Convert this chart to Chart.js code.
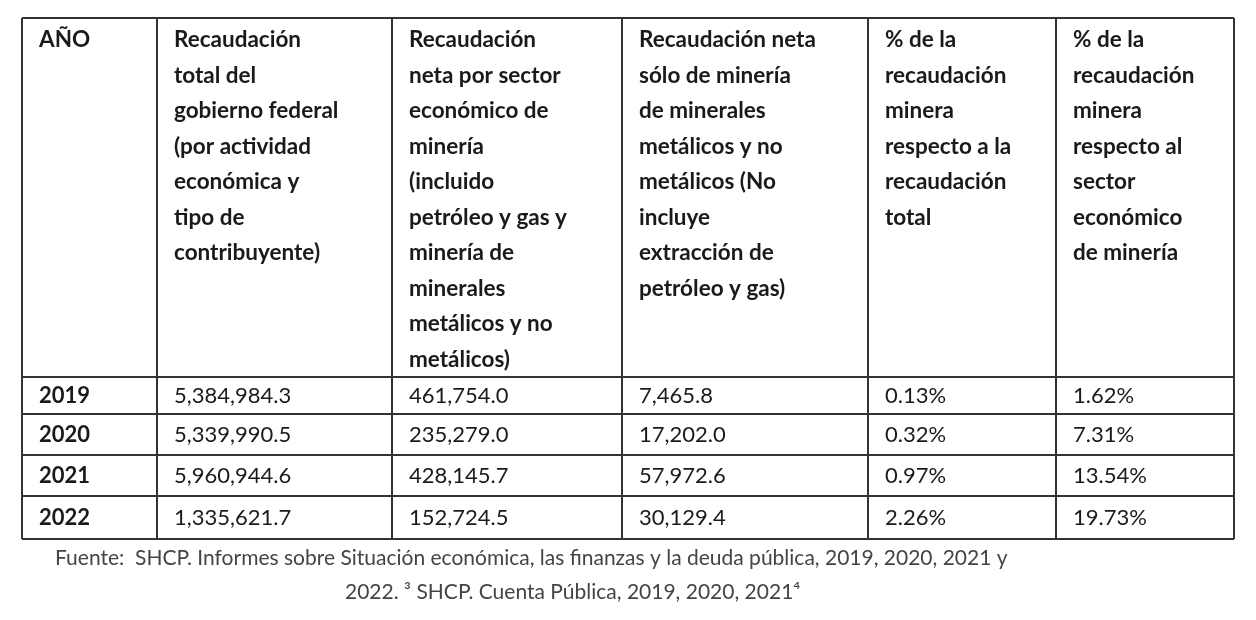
<!DOCTYPE html>
<html><head><meta charset="utf-8">
<script src="https://cdn.jsdelivr.net/npm/chart.js@4.4.0/dist/chart.umd.min.js"></script>
<style>html,body{margin:0;background:#fff}#wrap{width:1256px;height:620px}</style>
</head><body><div id="wrap"><canvas id="tbl"></canvas></div>
<script>
const headers = [
  ["AÑO"],
  ["Recaudación","total del","gobierno federal","(por actividad","económica y","tipo de","contribuyente)"],
  ["Recaudación","neta por sector","económico de","minería","(incluido","petróleo y gas y","minería de","minerales","metálicos y no","metálicos)"],
  ["Recaudación neta","sólo de minería","de minerales","metálicos y no","metálicos (No","incluye","extracción de","petróleo y gas)"],
  ["% de la","recaudación","minera","respecto a la","recaudación","total"],
  ["% de la","recaudación","minera","respecto al","sector","económico","de minería"]
];
const years = ["2019","2020","2021","2022"];
const totalFed = ["5,384,984.3","5,339,990.5","5,960,944.6","1,335,621.7"];
const sectorMin = ["461,754.0","235,279.0","428,145.7","152,724.5"];
const metalMin = ["7,465.8","17,202.0","57,972.6","30,129.4"];
const pctTotal = ["0.13%","0.32%","0.97%","2.26%"];
const pctSector = ["1.62%","7.31%","13.54%","19.73%"];
const footnote = ["Fuente:  SHCP. Informes sobre Situación económica, las finanzas y la deuda pública, 2019, 2020, 2021 y",
                  "2022. ³ SHCP. Cuenta Pública, 2019, 2020, 2021⁴"];

// grid edges in scale units
const colEdges = [22, 157, 392, 622, 868, 1056, 1234];
const rowEdges = [18, 377, 414, 455, 496, 539];

const rows = years.map((y, i) => [y, totalFed[i], sectorMin[i], metalMin[i], pctTotal[i], pctSector[i]]);

const tablePlugin = {
  id: 'tablePlugin',
  afterDraw(chart) {
    const ctx = chart.ctx, xs = chart.scales.x, ys = chart.scales.y;
    const X = v => xs.getPixelForValue(v), Y = v => ys.getPixelForValue(v);
    ctx.save();
    ctx.strokeStyle = '#333'; ctx.lineWidth = 2;
    colEdges.forEach(c => { ctx.beginPath(); ctx.moveTo(X(c), Y(rowEdges[0])); ctx.lineTo(X(c), Y(rowEdges[rowEdges.length-1])); ctx.stroke(); });
    rowEdges.forEach(r => { ctx.beginPath(); ctx.moveTo(X(colEdges[0]), Y(r)); ctx.lineTo(X(colEdges[colEdges.length-1]), Y(r)); ctx.stroke(); });
    ctx.fillStyle = '#1a1a1a'; ctx.textBaseline = 'middle'; ctx.textAlign = 'left';
    ctx.font = 'bold 22.5px Lato';
    headers.forEach((lines, c) => {
      const w = X(colEdges[c+1]) - X(colEdges[c]) - 22;
      lines.forEach((t, k) => ctx.fillText(t, X(colEdges[c] + 17), Y(40 + k * 35.5), w));
    });
    rows.forEach((r, i) => {
      const yc = Y((rowEdges[i+1] + rowEdges[i+2]) / 2);
      r.forEach((t, c) => {
        ctx.font = c === 0 ? 'bold 22px Lato' : '22px Lato';
        ctx.fillText(t, X(colEdges[c] + 17), yc);
      });
    });
    ctx.fillStyle = '#444'; ctx.font = '21px Lato';
    ctx.fillText(footnote[0], X(55), Y(558), X(1165) - X(55));
    ctx.fillText(footnote[1], X(345), Y(592));
    ctx.restore();
  }
};

new Chart(document.getElementById('tbl').getContext('2d'), {
  type: 'scatter',
  data: { datasets: [{ data: [] }] },
  options: {
    responsive: true, maintainAspectRatio: false, animation: false,
    layout: { padding: 0 },
    plugins: { legend: { display: false }, tooltip: { enabled: false } },
    scales: {
      x: { type: 'linear', min: 0, max: 1256, display: false },
      y: { type: 'linear', min: 0, max: 620, reverse: true, display: false }
    }
  },
  plugins: [tablePlugin]
});
</script></body></html>
